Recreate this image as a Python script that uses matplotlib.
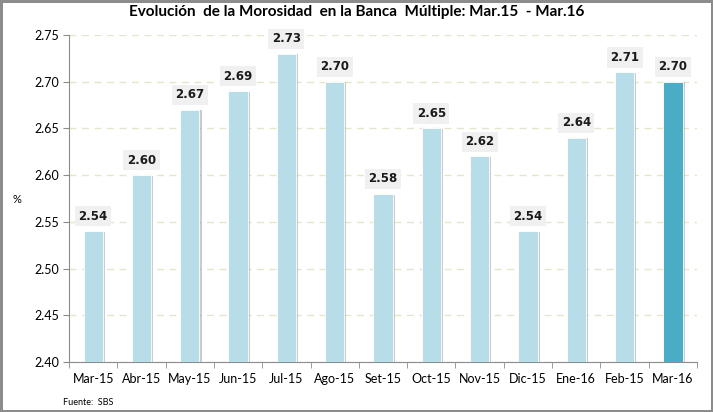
import matplotlib
matplotlib.use('Agg')
from matplotlib import pyplot as plt
from matplotlib import patheffects as pe

plt.rcParams['font.family'] = ['Lato', 'DejaVu Sans']

# datos
meses = ['Mar-15', 'Abr-15', 'May-15', 'Jun-15', 'Jul-15', 'Ago-15', 'Set-15',
         'Oct-15', 'Nov-15', 'Dic-15', 'Ene-16', 'Feb-15', 'Mar-16']
morosidad = [2.54, 2.60, 2.67, 2.69, 2.73, 2.70, 2.58,
             2.65, 2.62, 2.54, 2.64, 2.71, 2.70]
y_ticks = [2.40, 2.45, 2.50, 2.55, 2.60, 2.65, 2.70, 2.75]

fig = plt.figure(figsize=(7.13, 4.12), dpi=100)
fig.patch.set_edgecolor('#8c8c8c')
fig.patch.set_linewidth(2.5)
ax = fig.add_axes([0.0968, 0.1214, 0.8808, 0.7936])

colores = ['#b7dde8'] * (len(meses) - 1) + ['#4bacc6']
x = range(len(meses))
barras = ax.bar(x, [v - 2.40 for v in morosidad], bottom=2.40, width=0.4,
                color=colores, edgecolor='white', linewidth=0.6, zorder=3)
for b in barras:
    b.set_path_effects([pe.SimplePatchShadow(offset=(1.5, -0.5), shadow_rgbFace='#999999', alpha=0.5),
                        pe.Normal()])

# etiquetas de valor
for i, v in enumerate(morosidad):
    ax.text(i, v + 0.009, '%.2f' % v, ha='center', va='bottom', fontsize=8.5,
            fontweight='bold', color='#1a1a1a', zorder=4, family='DejaVu Sans',
            bbox=dict(boxstyle='square,pad=0.3', facecolor='#f0f0f0', edgecolor='none'))

ax.set_xlim(-0.5, len(meses) - 0.5)
ax.set_ylim(2.40, 2.75)
ax.set_yticks(y_ticks)
ax.set_yticklabels(['%.2f' % t for t in y_ticks], fontsize=9)
ax.set_xticks(x)
ax.set_xticklabels(meses, fontsize=9)
ax.set_xticks([i + 0.5 for i in range(-1, len(meses))], minor=True)
ax.tick_params(axis='x', which='major', length=0, pad=8)
ax.tick_params(axis='x', which='minor', length=4, color='#8c8c8c', direction='out')
ax.tick_params(axis='y', length=4, color='#8c8c8c', direction='out', pad=3)

ax.grid(axis='y', linestyle=(0, (5, 4)), color='#e3e6c8', linewidth=1, zorder=0)
for s in ['top', 'right']:
    ax.spines[s].set_visible(False)
for s in ['left', 'bottom']:
    ax.spines[s].set_color('#8c8c8c')

fig.text(0.5, 0.97, 'Evolución  de la Morosidad  en la Banca  Múltiple: Mar.15  - Mar.16',
         ha='center', va='center', fontsize=11, fontweight='bold')
fig.text(0.018, 0.515, '%', ha='left', va='center', fontsize=8)
fig.text(0.088, 0.022, 'Fuente:  SBS', ha='left', va='center', fontsize=6.5)

plt.savefig('out.png', dpi=100)
